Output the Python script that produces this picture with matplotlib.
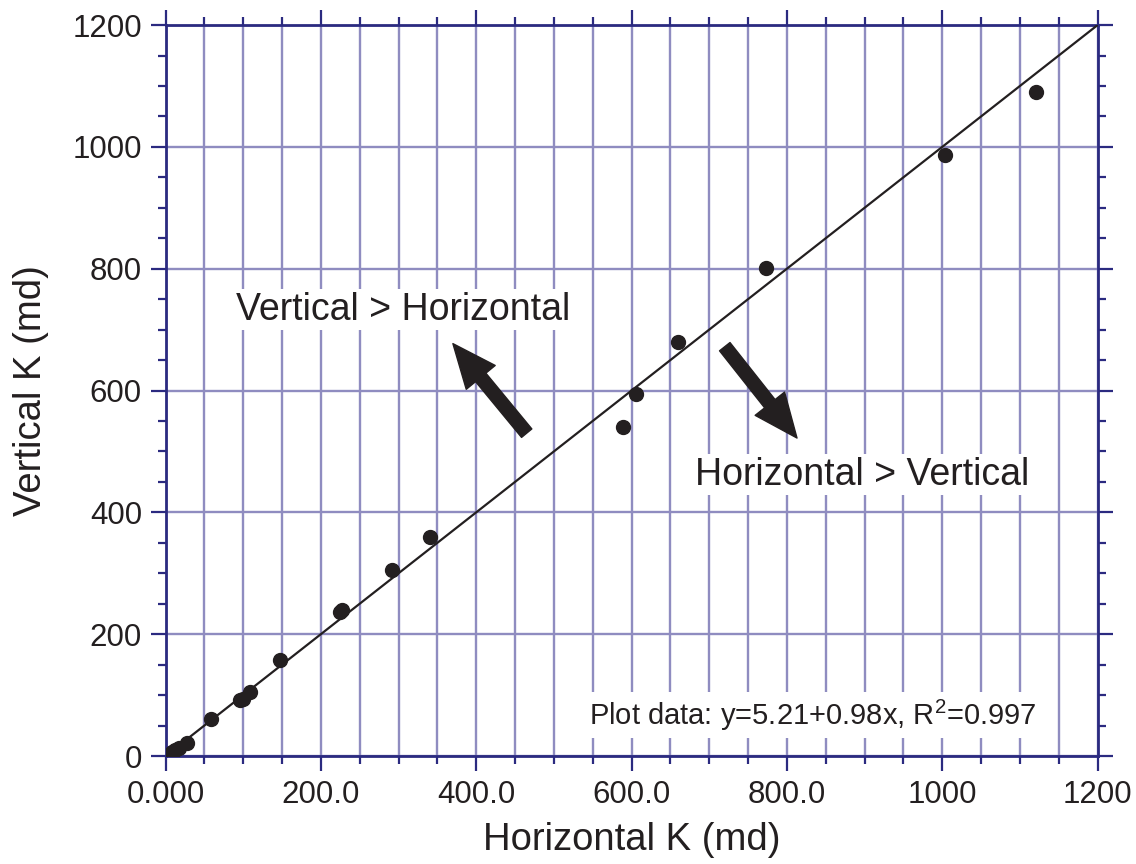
import matplotlib
matplotlib.use("Agg")
import matplotlib.pyplot as plt
from matplotlib.ticker import MultipleLocator, FixedLocator

plt.rcParams['font.family'] = ['Liberation Sans', 'DejaVu Sans']
plt.rcParams['mathtext.default'] = 'regular'

# core permeability measurements (md)
horiz_k = [8, 12, 17, 28, 58, 96, 100, 109, 148, 224, 227, 292, 340,
           589, 606, 660, 773, 1003, 1121]
vert_k = [7, 10, 13, 22, 61, 92, 93, 105, 158, 236, 240, 305, 359,
          540, 595, 679, 801, 986, 1090]

x_ticks = [0, 200, 400, 600, 800, 1000, 1200]
x_labels = ["0.000", "200.0", "400.0", "600.0", "800.0", "1000", "1200"]
y_ticks = [0, 200, 400, 600, 800, 1000, 1200]
y_labels = ["0", "200", "400", "600", "800", "1000", "1200"]

navy = "#2b2a80"
grid_col = "#8f8cc0"
ink = "#231f20"

fig = plt.figure(figsize=(11.36, 8.64), dpi=100)
ax = fig.add_axes([0.1457, 0.125, 0.8205, 0.846])

ax.set_xlim(0, 1200)
ax.set_ylim(0, 1200)

# 1:1 reference line
ax.plot([0, 1200], [0, 1200], color=ink, lw=1.6, zorder=3)
ax.plot(horiz_k, vert_k, 'o', color=ink, ms=10, zorder=4)

ax.xaxis.set_major_locator(FixedLocator(x_ticks))
ax.set_xticklabels(x_labels)
ax.yaxis.set_major_locator(FixedLocator(y_ticks))
ax.set_yticklabels(y_labels)
ax.xaxis.set_minor_locator(MultipleLocator(50))
ax.yaxis.set_minor_locator(MultipleLocator(50))

ax.set_axisbelow(True)
ax.xaxis.grid(True, which='both', color=grid_col, lw=1.7)
ax.yaxis.grid(True, which='major', color=grid_col, lw=1.7)

for s in ax.spines.values():
    s.set_color(navy)
    s.set_linewidth(2)

ax.tick_params(which='both', direction='out', top=True, right=True,
               color=navy, width=1.6)
ax.tick_params(which='major', length=11, labelsize=22.5, labelcolor=ink, pad=6)
ax.tick_params(which='minor', length=6)

ax.set_xlabel("Horizontal K (md)", fontsize=27.5, color=ink)
ax.set_ylabel("Vertical K (md)", fontsize=27.5, color=ink)
ax.xaxis.set_label_coords(0.5, -0.09)
ax.yaxis.set_label_coords(-0.125, 0.5)

box = dict(facecolor='white', edgecolor='none', pad=2)
ax.text(306, 733, "Vertical > Horizontal", fontsize=27, color=ink,
        ha='center', va='center', bbox=box, zorder=5)
ax.text(897, 462, "Horizontal > Vertical", fontsize=27, color=ink,
        ha='center', va='center', bbox=box, zorder=5)
ax.text(545, 67, "Plot data: y=5.21+0.98x, R$^{2}$=0.997", fontsize=21,
        color=ink, ha='left', va='center',
        bbox=dict(facecolor='white', edgecolor='none', pad=4), zorder=5)

arrow = dict(arrowstyle="simple,head_length=1.05,head_width=0.9,tail_width=0.32",
             color=ink, shrinkA=0, shrinkB=0, mutation_scale=30)
ax.annotate("", xy=(370, 677), xytext=(465, 530), arrowprops=arrow, zorder=6)
ax.annotate("", xy=(813, 522), xytext=(720, 672), arrowprops=arrow, zorder=6)

fig.savefig("out.png", dpi=100)
